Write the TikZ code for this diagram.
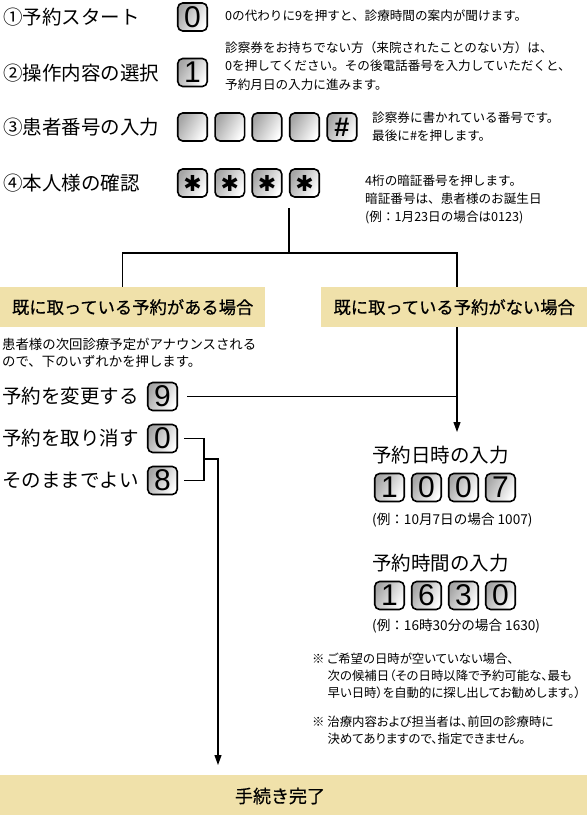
\documentclass[tikz,border=0pt]{standalone}
\usepackage{fontspec}
\setmainfont{Noto Sans CJK JP}
\newfontfamily\paltfont{Noto Sans CJK JP}[RawFeature={+palt}]
\newfontfamily\bandfont{Noto Sans CJK JP}[FakeBold=0.5]
\newfontfamily\keyfont{Liberation Sans}
\newfontfamily\symfont{DejaVu Sans}
\usetikzlibrary{arrows.meta}
\definecolor{bandc}{RGB}{240,225,170}
\begin{document}
\begin{tikzpicture}[x=1pt,y=-1pt,
  every node/.style={inner sep=0pt},
  ttl/.style={anchor=west, font=\fontsize{19.5}{19.5}\selectfont},
  note/.style={anchor=west, align=left, font=\fontsize{12.6}{18.5}\selectfont},
  keybox/.style={draw=black, line width=1.6pt, rounded corners=5pt,
    minimum width=29.5pt, minimum height=28pt,
    left color=gray!70, right color=white, shading angle=60,
    font=\keyfont\fontsize{30}{30}\selectfont},
  band/.style={fill=bandc, draw=none, font=\bandfont\fontsize{17.3}{17.3}\selectfont},
  conn/.style={line width=1.1pt},
  arr/.style={conn, -{Triangle[width=7pt,length=10pt]}}]
\useasboundingbox (0,0) rectangle (587,815);
\fill[white] (0,0) rectangle (587,815);

% Row 1
\node[ttl] (t1) at (3,17) {①予約スタート};
\node[keybox] (k1) at (192.5,17) {0};
\node[note] (n1) at (225,16) {0の代わりに9を押すと、診療時間の案内が聞けます。};

% Row 2
\node[ttl] (t2) at (3,73) {②操作内容の選択};
\node[keybox] (k2) at (192.5,72.5) {1};
\node[note] (n2) at (225,66) {診察券をお持ちでない方（来院されたことのない方）は、\\0を押してください。その後電話番号を入力していただくと、\\予約月日の入力に進みます。};

% Row 3
\node[ttl] (t3) at (3,127) {③患者番号の入力};
\node[keybox] (k3a) at (192.5,127) {};
\node[keybox] (k3b) at (229.8,127) {};
\node[keybox] (k3c) at (267,127) {};
\node[keybox] (k3d) at (304.5,127) {};
\node[keybox, font=\keyfont\bfseries\fontsize{27}{27}\selectfont] (k3e) at (342,127) {\#};
\node[note, font=\fontsize{12.6}{18}\selectfont] (n3) at (372,127) {診察券に書かれている番号です。\\最後に\#を押します。};

% Row 4
\node[ttl] (t4) at (3,183) {④本人様の確認};
\node[keybox, font=\symfont\fontsize{22}{22}\selectfont] (k4a) at (192.5,183) {✱};
\node[keybox, font=\symfont\fontsize{22}{22}\selectfont] (k4b) at (229.8,183) {✱};
\node[keybox, font=\symfont\fontsize{22}{22}\selectfont] (k4c) at (267,183) {✱};
\node[keybox, font=\symfont\fontsize{22}{22}\selectfont] (k4d) at (304.5,183) {✱};
\node[note, font=\fontsize{12.6}{18}\selectfont] (n4) at (365,199) {4桁の暗証番号を押します。\\暗証番号は、患者様のお誕生日\\(例：1月23日の場合は0123)};

% Bands
\node[band, minimum width=265pt, minimum height=40pt, anchor=north west] (b1) at (0,287) {既に取っている予約がある場合};
\node[band, minimum width=266pt, minimum height=40pt, anchor=north west] (b2) at (321,287) {既に取っている予約がない場合};
\node[band, minimum width=587pt, minimum height=40pt, anchor=north west] (b3) at (0,775) {};
\node[font=\bandfont\fontsize{18}{18}\selectfont] (t10) at (280,796) {手続き完了};

% Left branch
\node[note, font=\fontsize{13.4}{16.5}\selectfont] (n5) at (2,353) {患者様の次回診療予定がアナウンスされる\\ので、下のいずれかを押します。};
\node[ttl] (t5) at (2,396) {予約を変更する};
\node[keybox] (k9) at (162.5,396.5) {9};
\node[ttl] (t6) at (2,438) {予約を取り消す};
\node[keybox] (k0) at (162.5,438.5) {0};
\node[ttl] (t7) at (2,480) {そのままでよい};
\node[keybox] (k8) at (162.5,480.5) {8};

% Right branch
\node[ttl] (t8) at (372,455) {予約日時の入力};
\node[keybox] (r1) at (389.5,487.5) {1};
\node[keybox] (r2) at (426.5,487.5) {0};
\node[keybox] (r3) at (463.5,487.5) {0};
\node[keybox] (r4) at (500.5,487.5) {7};
\node[note, font=\fontsize{13.6}{18}\selectfont] (n8) at (372,520) {(例：10月7日の場合 1007)};
\node[ttl] (t9) at (372,563) {予約時間の入力};
\node[keybox] (s1) at (389.5,595.5) {1};
\node[keybox] (s2) at (426.5,595.5) {6};
\node[keybox] (s3) at (463.5,595.5) {3};
\node[keybox] (s4) at (500.5,595.5) {0};
\node[note, font=\fontsize{13.6}{18}\selectfont] (n9) at (372,626) {(例：16時30分の場合 1630)};

\node[note, font=\paltfont\fontsize{12.4}{17}\selectfont] (n10) at (312,676) {※ ご希望の日時が空いていない場合、\\\hspace*{1.25em}次の候補日（その日時以降で予約可能な、最も\\\hspace*{1.25em}早い日時）を自動的に探し出してお勧めします。）};
\node[note, font=\paltfont\fontsize{12.4}{17}\selectfont] (n11) at (312,730.5) {※ 治療内容および担当者は、前回の診療時に\\\hspace*{1.25em}決めてありますので、指定できません。};

% Connectors
\coordinate (top) at (289,208);
\coordinate (j) at (289,253);
\coordinate (a1) at (457,432);
\coordinate (bx) at (204,459);
\coordinate (a2) at (218,765);
\draw[conn] (top) -- (j);
\draw[conn] (j) -| ([xshift=-10.5pt]b1.north);
\draw[conn] (j) -| (b2.north -| a1);
\draw[arr] (b2.south -| a1) -- (a1);
\draw[conn] ([xshift=9pt]k9.east) -- (k9.east -| a1);
\draw[conn] ([xshift=6pt]k0.east) -| (bx |- k8.east) -- ([xshift=6pt]k8.east);
\draw[arr] (bx) -| (a2);
\end{tikzpicture}
\end{document}
